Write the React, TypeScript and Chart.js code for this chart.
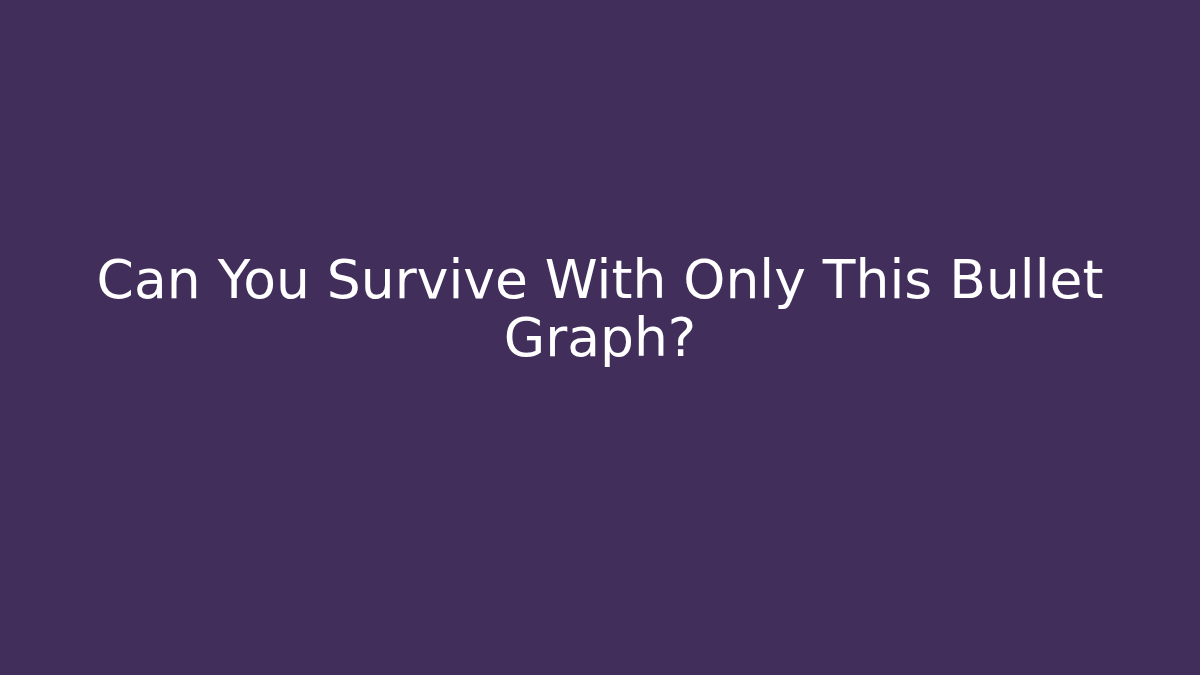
import { useEffect, useRef } from 'react'
import { Chart, registerables } from 'chart.js'

Chart.register(...registerables)

// The reference shows only the title card: no categories or series are drawn
const titleLines = ['Can You Survive With Only This Bullet', 'Graph?']
const categories: string[] = []
const values: number[] = []

const BG = '#412e5b'

export default function App() {
  const canvasRef = useRef<HTMLCanvasElement>(null)
  const chartRef = useRef<Chart | null>(null)

  useEffect(() => {
    if (!canvasRef.current) return
    chartRef.current?.destroy()

    chartRef.current = new Chart(canvasRef.current, {
      type: 'bar',
      data: {
        labels: categories,
        datasets: [{ data: values, backgroundColor: '#ffffff' }],
      },
      options: {
        responsive: true,
        maintainAspectRatio: false,
        animation: false,
        layout: { padding: 0 },
        plugins: {
          legend: { display: false },
          tooltip: { enabled: false },
          title: {
            display: true,
            text: titleLines,
            color: '#ffffff',
            align: 'center',
            font: { family: "'DejaVu Sans', sans-serif", size: 53.5, weight: 'normal', lineHeight: 1.09 },
            padding: { top: 255, bottom: 0 },
          },
        },
        scales: {
          x: { display: false },
          y: { display: false },
        },
      },
    })

    return () => { chartRef.current?.destroy() }
  }, [])

  return (
    <div style={{ position: 'fixed', top: 0, left: 0, width: 1200, height: 675, background: BG }}>
      <canvas ref={canvasRef} />
    </div>
  )
}
